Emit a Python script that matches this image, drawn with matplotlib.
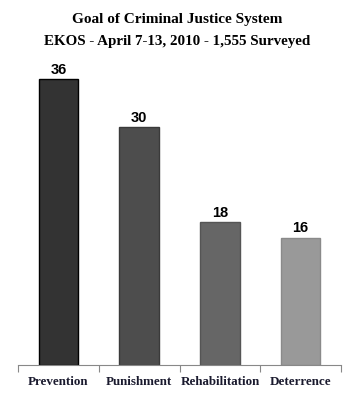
import matplotlib
matplotlib.use("Agg")
import matplotlib.pyplot as plt

categories = ["Prevention", "Punishment", "Rehabilitation", "Deterrence"]
values = [36, 30, 18, 16]
colors = ["#333333", "#4d4d4d", "#666666", "#999999"]
edges = ["#000000", "#3a3a3a", "#555555", "#8a8a8a"]

W, H = 354, 400
fig = plt.figure(figsize=(W/100, H/100), dpi=100)
base = 364.5
scale = 7.92
top_px = 60
ymax = (base - top_px) / scale
ax = fig.add_axes([18/W, (H-base)/H, (341-18)/W, (base-top_px)/H])
x = list(range(len(categories)))
bars = ax.bar(x, values, width=0.49, color=colors, edgecolor=edges, linewidth=1)
ax.set_xlim(-0.5, 3.5)
ax.set_ylim(0, ymax)
for s in ["top", "right", "left"]:
    ax.spines[s].set_visible(False)
ax.spines["bottom"].set_color("#888888")
ax.set_yticks([])
ax.set_xticks([-0.5, 0.5, 1.5, 2.5, 3.5])
ax.set_xticklabels([])
ax.tick_params(axis="x", length=5, color="#888888", direction="out")
for xi, c in zip(x, categories):
    ax.text(xi, -0.058, c, transform=ax.get_xaxis_transform(), ha="center", va="center",
            family="Liberation Serif", fontweight="bold", fontsize=9.4, color="#1a1a2e")
for xi, v in zip(x, values):
    ax.text(xi, v + 0.3, str(v), ha="center", va="bottom", family="Liberation Sans",
            fontweight="bold", fontsize=10.5, color="#000000")
fig.text(0.5, 1 - 20/H, "Goal of Criminal Justice System", ha="center", va="center",
         family="Liberation Serif", fontweight="bold", fontsize=11)
fig.text(0.5, 1 - 41/H, "EKOS - April 7-13, 2010 - 1,555 Surveyed", ha="center", va="center",
         family="Liberation Serif", fontweight="bold", fontsize=10.8)
fig.savefig("out.png", dpi=100)
